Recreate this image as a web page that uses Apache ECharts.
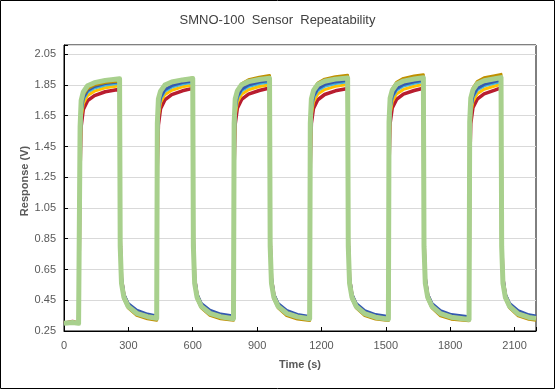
<!DOCTYPE html>
<html>
<head>
<meta charset="utf-8">
<script src="https://cdn.jsdelivr.net/npm/echarts@6/dist/echarts.min.js"></script>
<style>
html,body{margin:0;padding:0;background:#fff;}
#chart{width:555px;height:389px;}
</style>
</head>
<body>
<div id="chart"></div>
<script>
const titleText = 'SMNO-100  Sensor  Repeatability';
const xTicks = [0, 300, 600, 900, 1200, 1500, 1800, 2100];
const yTicks = [0.25, 0.45, 0.65, 0.85, 1.05, 1.25, 1.45, 1.65, 1.85, 2.05];

const times = [0,40,68,
72,75,80,90,110,142,192,259,262,268,279,299,339,389,
432,435,440,450,470,502,552,600,603,609,620,640,680,730,
790,793,798,808,828,860,910,958,961,967,978,998,1038,1088,
1145,1148,1153,1163,1183,1215,1265,1322,1325,1331,1342,1362,1402,1452,
1512,1515,1520,1530,1550,1582,1632,1675,1678,1684,1695,1715,1755,1805,
1888,1891,1896,1906,1926,1958,2008,2037,2040,2046,2057,2077,2117,2167,
2200];

const red = [0.300,0.312,0.300,
0.300,1.30,1.58,1.690,1.748,1.781,1.806,1.822,0.85,0.59,0.485,0.42,0.372,0.350,
0.340,1.32,1.59,1.695,1.753,1.787,1.812,1.828,0.85,0.59,0.485,0.42,0.372,0.350,
0.339,1.32,1.595,1.698,1.756,1.790,1.814,1.830,0.85,0.59,0.485,0.42,0.371,0.348,
0.338,1.33,1.60,1.698,1.754,1.788,1.812,1.827,0.85,0.59,0.485,0.42,0.370,0.348,
0.337,1.33,1.60,1.700,1.756,1.790,1.814,1.829,0.85,0.59,0.485,0.42,0.370,0.347,
0.336,1.33,1.60,1.702,1.758,1.792,1.816,1.831,0.85,0.59,0.485,0.42,0.369,0.346,
0.340];

const yellow = [0.300,0.305,0.300,
0.300,1.38,1.64,1.730,1.782,1.810,1.832,1.845,0.79,0.56,0.465,0.405,0.360,0.338,
0.328,1.40,1.65,1.735,1.787,1.816,1.838,1.850,0.79,0.56,0.465,0.405,0.360,0.338,
0.327,1.40,1.655,1.738,1.790,1.819,1.840,1.852,0.79,0.56,0.465,0.405,0.359,0.336,
0.326,1.41,1.66,1.740,1.791,1.820,1.841,1.853,0.79,0.56,0.465,0.405,0.358,0.336,
0.325,1.41,1.66,1.741,1.792,1.821,1.842,1.854,0.79,0.56,0.465,0.405,0.358,0.335,
0.324,1.41,1.66,1.742,1.793,1.822,1.843,1.855,0.79,0.56,0.465,0.405,0.357,0.334,
0.328];

const cyan = [0.300,0.305,0.300,
0.300,1.43,1.67,1.755,1.804,1.830,1.850,1.861,0.83,0.58,0.48,0.42,0.375,0.352,
0.342,1.45,1.68,1.760,1.809,1.836,1.856,1.867,0.83,0.58,0.48,0.42,0.375,0.352,
0.341,1.45,1.685,1.765,1.813,1.840,1.859,1.870,0.83,0.58,0.48,0.42,0.374,0.350,
0.340,1.46,1.69,1.767,1.815,1.842,1.860,1.871,0.83,0.58,0.48,0.42,0.373,0.350,
0.339,1.46,1.69,1.768,1.816,1.843,1.861,1.872,0.83,0.58,0.48,0.42,0.373,0.349,
0.338,1.46,1.69,1.769,1.817,1.844,1.862,1.873,0.83,0.58,0.48,0.42,0.372,0.348,
0.342];

const blue = [0.300,0.305,0.300,
0.300,1.45,1.68,1.765,1.814,1.840,1.860,1.871,0.86,0.60,0.49,0.43,0.385,0.360,
0.348,1.47,1.69,1.770,1.819,1.846,1.866,1.876,0.86,0.60,0.49,0.43,0.385,0.360,
0.347,1.47,1.695,1.775,1.823,1.850,1.869,1.879,0.86,0.60,0.49,0.43,0.384,0.358,
0.345,1.48,1.70,1.777,1.825,1.852,1.870,1.880,0.86,0.60,0.49,0.43,0.383,0.357,
0.344,1.48,1.70,1.778,1.826,1.853,1.871,1.881,0.86,0.60,0.49,0.43,0.383,0.357,
0.343,1.48,1.70,1.779,1.827,1.854,1.872,1.882,0.86,0.60,0.49,0.43,0.382,0.355,
0.348];

const gold = [0.300,0.310,0.300,
0.300,1.55,1.72,1.785,1.826,1.850,1.866,1.876,0.78,0.55,0.46,0.40,0.352,0.330,
0.320,1.58,1.74,1.800,1.843,1.866,1.884,1.896,0.78,0.55,0.46,0.40,0.352,0.330,
0.320,1.60,1.755,1.815,1.858,1.884,1.901,1.912,0.78,0.55,0.46,0.40,0.350,0.328,
0.318,1.60,1.76,1.820,1.862,1.888,1.904,1.914,0.78,0.55,0.46,0.40,0.350,0.328,
0.318,1.61,1.765,1.824,1.868,1.893,1.908,1.917,0.78,0.55,0.46,0.40,0.349,0.327,
0.317,1.61,1.77,1.828,1.872,1.897,1.911,1.919,0.78,0.55,0.46,0.40,0.349,0.326,
0.320];

const green = [0.300,0.305,0.300,
0.300,1.58,1.75,1.805,1.845,1.865,1.880,1.890,0.80,0.56,0.47,0.41,0.365,0.343,
0.333,1.60,1.76,1.810,1.849,1.869,1.883,1.892,0.80,0.56,0.47,0.41,0.365,0.343,
0.330,1.60,1.76,1.812,1.852,1.872,1.886,1.894,0.80,0.56,0.47,0.41,0.365,0.342,
0.330,1.60,1.76,1.814,1.853,1.874,1.888,1.896,0.80,0.56,0.47,0.41,0.363,0.340,
0.327,1.61,1.765,1.816,1.855,1.875,1.889,1.897,0.80,0.56,0.47,0.41,0.363,0.340,
0.325,1.61,1.765,1.818,1.857,1.877,1.890,1.898,0.80,0.56,0.47,0.41,0.362,0.338,
0.332];

const seriesDefs = [
  {name:'S1', values: red, color:'#B81D2F', width:3.5},
  {name:'S2', values: yellow, color:'#FFC000', width:3},
  {name:'S3', values: cyan, color:'#45B5D8', width:3},
  {name:'S4', values: blue, color:'#3459B0', width:3},
  {name:'S5', values: gold, color:'#C09000', width:3},
  {name:'S6', values: green, color:'#A8D08D', width:5}
];

const font = '"Liberation Sans", Arial, sans-serif';
const chart = echarts.init(document.getElementById('chart'), null, {renderer:'canvas'});
chart.setOption({
  animation: false,
  backgroundColor: '#fff',
  title: {
    text: titleText, left: 'center', top: 9,
    textStyle: {fontFamily: font, fontSize: 13, fontWeight: 'normal', color: '#404040'}
  },
  grid: {left: 64, right: 19, top: 45, bottom: 58, show: true, borderColor: '#000', borderWidth: 1, backgroundColor: 'transparent'},
  xAxis: {
    type: 'value', min: 0, max: 2200, interval: 300,
    name: 'Time (s)', nameLocation: 'middle', nameGap: 28,
    nameTextStyle: {fontFamily: font, fontSize: 11, fontWeight: 'bold', color: '#595959'},
    axisLine: {show: true, onZero: false, lineStyle: {color: '#000', width: 1}},
    axisTick: {show: true, inside: true, length: 4, lineStyle: {color: '#000'}},
    splitLine: {show: false},
    axisLabel: {
      margin: 9, fontFamily: font, fontSize: 11, color: '#595959',
      formatter: v => xTicks.includes(Math.round(v)) ? String(Math.round(v)) : ''
    }
  },
  yAxis: {
    type: 'value', min: 0.25, max: 2.11, interval: 0.2,
    axisLine: {show: true, onZero: false, lineStyle: {color: '#000', width: 1}},
    axisTick: {show: true, inside: true, length: 4, lineStyle: {color: '#000'}},
    splitLine: {show: true, lineStyle: {color: '#D9D9D9', width: 1}},
    axisLabel: {
      margin: 8, fontFamily: font, fontSize: 11, color: '#595959',
      formatter: v => {
        const s = v.toFixed(2);
        return yTicks.some(t => Math.abs(t - v) < 1e-6) ? s : '';
      }
    }
  },
  graphic: [
    {type: 'text', x: 25, y: 181, rotation: Math.PI / 2,
     style: {text: 'Response (V)', font: 'bold 11px ' + font, fill: '#595959', align: 'center', verticalAlign: 'middle'}},
    {type: 'rect', silent: true, z: 100, shape: {x: 0.5, y: 0.5, width: 554, height: 388},
     style: {fill: 'none', stroke: '#000', lineWidth: 1}}
  ],
  series: seriesDefs.map(s => ({
    name: s.name, type: 'line', showSymbol: false, symbol: 'none',
    data: times.map((t, i) => [t, s.values[i]]),
    lineStyle: {color: s.color, width: s.width, join: 'round'},
    itemStyle: {color: s.color},
    emphasis: {disabled: true}
  }))
});
</script>
</body>
</html>
